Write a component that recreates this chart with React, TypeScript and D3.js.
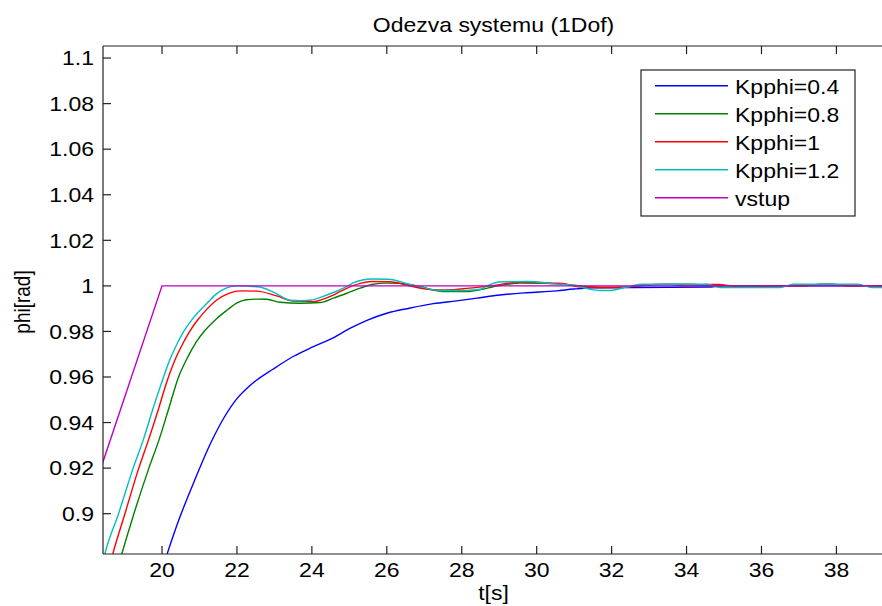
import React from "react";
import * as d3 from "d3";

const W = 882;
const H = 606;

// tick values and labels
const xTicks = [20, 22, 24, 26, 28, 30, 32, 34, 36, 38];
const yTicks = [0.9, 0.92, 0.94, 0.96, 0.98, 1.0, 1.02, 1.04, 1.06, 1.08, 1.1];
const yTickLabels = ["0.9", "0.92", "0.94", "0.96", "0.98", "1", "1.02", "1.04", "1.06", "1.08", "1.1"];

const seriesNames = ["Kpphi=0.4", "Kpphi=0.8", "Kpphi=1", "Kpphi=1.2", "vstup"];
const seriesColors = ["#0000ff", "#008000", "#ff0000", "#00bfbf", "#bf00bf"];

const kp04: [number, number][] = [
  [20.05, 0.878], [20.13, 0.882], [20.45, 0.8973], [20.84, 0.9134], [21.3, 0.931], [21.65, 0.942],
  [22.0, 0.9505], [22.35, 0.9563], [22.97, 0.9635], [23.5, 0.969], [24.04, 0.9733],
  [24.57, 0.9772], [25.0, 0.9812], [25.47, 0.9849], [26.0, 0.988], [26.6, 0.9902], [27.24, 0.9922],
  [27.86, 0.9934], [28.4, 0.9946], [29.02, 0.996], [29.73, 0.997], [30.53, 0.9978], [30.98, 0.9986],
  [31.5, 0.9992], [32.2, 0.9993], [32.57, 0.9993], [34.55, 0.9995], [35.0, 1.0], [39.4, 1.0],
];

const kp08: [number, number][] = [
  [18.85, 0.878], [18.92, 0.882], [19.25, 0.9], [19.65, 0.92], [19.92, 0.9324], [20.17, 0.9456],
  [20.43, 0.9595], [20.68, 0.9685], [20.92, 0.9755], [21.15, 0.9805], [21.45, 0.9855], [21.75, 0.9895],
  [22.0, 0.9925], [22.25, 0.9939], [22.5, 0.9942], [22.8, 0.9941], [23.15, 0.9928], [23.68, 0.9924],
  [24.22, 0.9927], [24.57, 0.9946], [24.97, 0.997], [25.29, 0.999], [25.6, 1.0006], [26.0, 1.0012],
  [26.35, 1.0011], [26.9, 0.9996], [27.5, 0.9975], [28.14, 0.9975], [28.57, 0.9986], [28.84, 0.9996],
  [29.56, 1.0012], [30.18, 1.0011], [30.98, 1.0003], [31.4, 0.9996], [31.7, 0.9993], [32.2, 0.9993],
  [32.7, 1.0], [33.55, 1.0007], [34.17, 1.0007], [34.6, 1.0], [37.2, 1.0], [37.56, 1.0007],
  [37.9, 1.0007], [38.3, 1.0], [39.4, 1.0],
];

const kp10: [number, number][] = [
  [18.6, 0.877], [18.68, 0.882], [19.01, 0.9], [19.38, 0.92], [19.64, 0.9324], [19.9, 0.9456],
  [20.12, 0.9575], [20.32, 0.9665], [20.55, 0.9745], [20.72, 0.9795], [20.95, 0.985], [21.2, 0.9898],
  [21.46, 0.9938], [21.77, 0.9966], [22.08, 0.9978], [22.53, 0.9977], [23.06, 0.9956], [23.5, 0.9933],
  [24.04, 0.9931], [24.3, 0.9942], [24.6, 0.9962], [24.9, 0.9987], [25.29, 1.0011], [25.6, 1.0019],
  [26.09, 1.0018], [26.6, 1.0], [27.24, 0.9983], [27.6, 0.9982], [28.2, 0.999], [28.76, 1.0],
  [29.56, 1.0016], [29.9, 1.0016], [30.45, 1.0012], [30.7, 1.0011], [31.1, 0.9996], [31.7, 0.9993],
  [32.2, 0.9993], [32.7, 1.0], [33.2, 1.0006], [33.55, 1.0006], [34.0, 1.0], [34.55, 1.0006],
  [34.85, 1.0006], [35.2, 1.0], [35.5, 0.9994], [35.8, 0.9994], [36.3, 1.0], [37.0, 1.0],
  [37.56, 1.0006], [37.9, 1.0006], [38.4, 1.0], [39.4, 1.0],
];

const kp12: [number, number][] = [
  [18.4, 0.877], [18.47, 0.882], [18.84, 0.9], [19.23, 0.92], [19.5, 0.9324], [19.75, 0.9456],
  [20.0, 0.958], [20.2, 0.9672], [20.4, 0.9745], [20.58, 0.98], [20.8, 0.9852], [21.19, 0.9922],
  [21.46, 0.9966], [21.71, 0.999], [22.0, 1.0], [22.6, 0.9995], [23.0, 0.997], [23.42, 0.9937],
  [23.7, 0.9935], [23.95, 0.9937], [24.4, 0.996], [24.9, 0.9995], [25.1, 1.0013], [25.6, 1.003],
  [26.05, 1.0029], [26.6, 1.0007], [26.8, 1.0], [27.4, 0.998], [28.1, 0.998], [28.5, 0.9985],
  [28.67, 1.0], [29.1, 1.0018], [29.75, 1.0019], [30.4, 1.001], [31.07, 1.0], [31.4, 0.9986],
  [31.7, 0.998], [31.96, 0.998], [32.4, 0.9995], [32.8, 1.0007], [34.55, 1.0007], [34.9, 0.9993],
  [36.5, 0.9993], [36.85, 1.0007], [38.58, 1.0007], [38.95, 0.9993], [39.4, 0.9993],
];

const vstup: [number, number][] = [
  [18.3, 0.9167], [20.0, 1.0], [39.4, 1.0],
];

const allSeries = [kp04, kp08, kp10, kp12, vstup];

const FONT = "'Liberation Sans', Arial, sans-serif";
const SX = 1.15;

export default function App() {
  const left = 103, right = 884, top = 46, bottom = 554;
  const x = d3.scaleLinear().domain([18.425, 39.27]).range([left, right]);
  const y = d3.scaleLinear().domain([0.8823, 1.1053]).range([bottom, top]);
  const smooth = d3.line<[number, number]>().x(d => x(d[0])).y(d => y(d[1])).curve(d3.curveMonotoneX);
  const straight = d3.line<[number, number]>().x(d => x(d[0])).y(d => y(d[1]));
  const tickLen = 8;

  const legX = 641, legY = 70, legW = 214, legH = 146;

  return (
    <svg width={W} height={H} style={{ position: "absolute", left: 0, top: 0, background: "#fff" }}>
      <rect x={0} y={0} width={W} height={H} fill="#fff" />
      <defs>
        <clipPath id="plotclip">
          <rect x={left} y={top} width={right - left} height={bottom - top} />
        </clipPath>
      </defs>
      {/* title */}
      <g transform={`translate(${(left + right) / 2},32) scale(${SX},1)`}>
        <text textAnchor="middle" fontFamily={FONT} fontSize={20} fill="#000">Odezva systemu (1Dof)</text>
      </g>
      {/* series */}
      <g clipPath="url(#plotclip)">
        {allSeries.map((s, i) => (
          <path key={i} d={(i === 4 ? straight(s) : smooth(s)) || ""} fill="none" stroke={seriesColors[i]} strokeWidth={1.4} />
        ))}
      </g>
      {/* axes box */}
      <line x1={left} y1={top} x2={right} y2={top} stroke="#222" strokeWidth={1.2} />
      <line x1={left} y1={bottom} x2={right} y2={bottom} stroke="#222" strokeWidth={1.2} />
      <line x1={left} y1={top} x2={left} y2={bottom} stroke="#222" strokeWidth={1.2} />
      {/* x ticks */}
      {xTicks.map(t => (
        <g key={t}>
          <line x1={x(t)} x2={x(t)} y1={bottom} y2={bottom - tickLen} stroke="#222" strokeWidth={1.2} />
          <line x1={x(t)} x2={x(t)} y1={top} y2={top + tickLen} stroke="#222" strokeWidth={1.2} />
          <g transform={`translate(${x(t)},577) scale(${SX},1)`}>
            <text textAnchor="middle" fontFamily={FONT} fontSize={20} fill="#000">{t}</text>
          </g>
        </g>
      ))}
      {/* y ticks */}
      {yTicks.map((v, i) => (
        <g key={v}>
          <line x1={left} x2={left + tickLen} y1={y(v)} y2={y(v)} stroke="#222" strokeWidth={1.2} />
          <g transform={`translate(94,${y(v) + 7.3}) scale(${SX},1)`}>
            <text textAnchor="end" fontFamily={FONT} fontSize={20} fill="#000">{yTickLabels[i]}</text>
          </g>
        </g>
      ))}
      {/* axis labels */}
      <g transform={`translate(${(left + right) / 2},600) scale(${SX},1)`}>
        <text textAnchor="middle" fontFamily={FONT} fontSize={20} fill="#000">t[s]</text>
      </g>
      <g transform={`translate(30,302) scale(${SX},1) rotate(-90)`}>
        <text textAnchor="middle" fontFamily={FONT} fontSize={19} fill="#000">phi[rad]</text>
      </g>
      {/* legend */}
      <rect x={legX} y={legY} width={legW} height={legH} fill="#fff" stroke="#222" strokeWidth={1.2} />
      {seriesNames.map((n, i) => {
        const ly = 85.7 + i * 28;
        return (
          <g key={n}>
            <line x1={655} x2={728} y1={ly} y2={ly} stroke={seriesColors[i]} strokeWidth={1.4} />
            <g transform={`translate(735,${ly + 8}) scale(${SX},1)`}>
              <text fontFamily={FONT} fontSize={20} fill="#000">{n}</text>
            </g>
          </g>
        );
      })}
    </svg>
  );
}
